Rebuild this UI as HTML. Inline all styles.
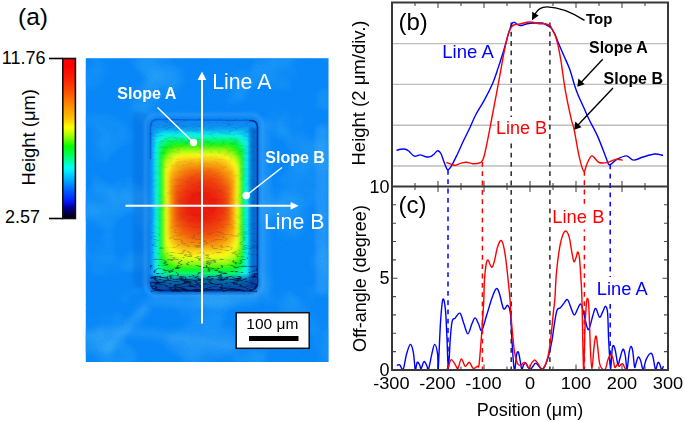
<!DOCTYPE html><html><head><meta charset="utf-8"><style>html,body{margin:0;padding:0;background:#fff;width:685px;height:422px;overflow:hidden}svg{position:absolute;left:0;top:0}</style></head><body>
<svg width="685" height="422" viewBox="0 0 685 422" font-family="'Liberation Sans', sans-serif">
<defs>
<linearGradient id="cb" x1="0" y1="0" x2="0" y2="1"><stop offset="0.000" stop-color="#ff0000"/><stop offset="0.050" stop-color="#ff0000"/><stop offset="0.130" stop-color="#fc2300"/><stop offset="0.200" stop-color="#ff4b00"/><stop offset="0.280" stop-color="#ff8200"/><stop offset="0.380" stop-color="#ffc800"/><stop offset="0.430" stop-color="#ffff00"/><stop offset="0.480" stop-color="#aaff00"/><stop offset="0.550" stop-color="#00ff00"/><stop offset="0.620" stop-color="#00ff78"/><stop offset="0.680" stop-color="#00fff0"/><stop offset="0.700" stop-color="#00f0ff"/><stop offset="0.760" stop-color="#00aaff"/><stop offset="0.830" stop-color="#005aff"/><stop offset="0.890" stop-color="#001eff"/><stop offset="0.930" stop-color="#0000a0"/><stop offset="0.970" stop-color="#00003c"/><stop offset="1.000" stop-color="#000000"/></linearGradient>
<linearGradient id="gL" gradientUnits="userSpaceOnUse" x1="150.0" y1="0" x2="188.0" y2="0"><stop offset="0.000" stop-color="#0888f8"/><stop offset="0.023" stop-color="#0b8af1"/><stop offset="0.046" stop-color="#0c9bf2"/><stop offset="0.069" stop-color="#0dacf3"/><stop offset="0.092" stop-color="#0ebcf4"/><stop offset="0.112" stop-color="#0fd0f5"/><stop offset="0.132" stop-color="#11e3f6"/><stop offset="0.151" stop-color="#11f2ef"/><stop offset="0.171" stop-color="#11f7d7"/><stop offset="0.204" stop-color="#11f6a1"/><stop offset="0.237" stop-color="#10f66d"/><stop offset="0.270" stop-color="#10f53d"/><stop offset="0.303" stop-color="#0ff40f"/><stop offset="0.336" stop-color="#53f711"/><stop offset="0.368" stop-color="#97f913"/><stop offset="0.401" stop-color="#cdfb15"/><stop offset="0.434" stop-color="#fcfc17"/><stop offset="0.461" stop-color="#fadf15"/><stop offset="0.487" stop-color="#f9c413"/><stop offset="0.513" stop-color="#f8b112"/><stop offset="0.539" stop-color="#f69f11"/><stop offset="0.569" stop-color="#f58e10"/><stop offset="0.599" stop-color="#f47e0f"/><stop offset="0.628" stop-color="#f36d0e"/><stop offset="0.658" stop-color="#f25d0d"/><stop offset="0.684" stop-color="#f2520c"/><stop offset="0.711" stop-color="#f14a0c"/><stop offset="0.737" stop-color="#f0420b"/><stop offset="0.763" stop-color="#ee390b"/><stop offset="0.822" stop-color="#ee320a"/><stop offset="0.882" stop-color="#ec290a"/><stop offset="0.941" stop-color="#ed2209"/><stop offset="1.000" stop-color="#ed1d09"/></linearGradient>
<linearGradient id="gR" gradientUnits="userSpaceOnUse" x1="258.0" y1="0" x2="215.0" y2="0"><stop offset="-0.000" stop-color="#0888f8"/><stop offset="0.035" stop-color="#0b85f0"/><stop offset="0.070" stop-color="#0c90f1"/><stop offset="0.105" stop-color="#0c9bf2"/><stop offset="0.140" stop-color="#0da6f2"/><stop offset="0.172" stop-color="#0eb9f4"/><stop offset="0.203" stop-color="#0fcdf5"/><stop offset="0.235" stop-color="#10e0f6"/><stop offset="0.267" stop-color="#11f1f1"/><stop offset="0.294" stop-color="#11f7bc"/><stop offset="0.320" stop-color="#10f67c"/><stop offset="0.346" stop-color="#10f546"/><stop offset="0.372" stop-color="#0ff40f"/><stop offset="0.398" stop-color="#53f711"/><stop offset="0.424" stop-color="#97f913"/><stop offset="0.451" stop-color="#cdfb15"/><stop offset="0.477" stop-color="#fcfc17"/><stop offset="0.503" stop-color="#fadf15"/><stop offset="0.529" stop-color="#f9c413"/><stop offset="0.555" stop-color="#f8b112"/><stop offset="0.581" stop-color="#f69f11"/><stop offset="0.605" stop-color="#f58e10"/><stop offset="0.628" stop-color="#f47e0f"/><stop offset="0.651" stop-color="#f36d0e"/><stop offset="0.674" stop-color="#f25d0d"/><stop offset="0.695" stop-color="#f2520c"/><stop offset="0.715" stop-color="#f14a0c"/><stop offset="0.735" stop-color="#f0420b"/><stop offset="0.756" stop-color="#ee390b"/><stop offset="0.817" stop-color="#ee320a"/><stop offset="0.878" stop-color="#ec290a"/><stop offset="0.939" stop-color="#ed2209"/><stop offset="1.000" stop-color="#ed1d09"/></linearGradient>
<linearGradient id="gT" gradientUnits="userSpaceOnUse" x1="0" y1="119.0" x2="0" y2="192.0"><stop offset="0.000" stop-color="#0888f8"/><stop offset="0.034" stop-color="#0b85f0"/><stop offset="0.068" stop-color="#0c90f1"/><stop offset="0.103" stop-color="#0c9bf2"/><stop offset="0.137" stop-color="#0da6f2"/><stop offset="0.154" stop-color="#0eb9f4"/><stop offset="0.171" stop-color="#0fcdf5"/><stop offset="0.188" stop-color="#10e0f6"/><stop offset="0.205" stop-color="#11f1f1"/><stop offset="0.240" stop-color="#11f7bc"/><stop offset="0.274" stop-color="#10f67c"/><stop offset="0.308" stop-color="#10f546"/><stop offset="0.342" stop-color="#0ff40f"/><stop offset="0.380" stop-color="#53f711"/><stop offset="0.418" stop-color="#97f913"/><stop offset="0.455" stop-color="#cdfb15"/><stop offset="0.493" stop-color="#fcfc17"/><stop offset="0.524" stop-color="#fadf15"/><stop offset="0.555" stop-color="#f9c413"/><stop offset="0.586" stop-color="#f8b112"/><stop offset="0.616" stop-color="#f69f11"/><stop offset="0.644" stop-color="#f58e10"/><stop offset="0.671" stop-color="#f47e0f"/><stop offset="0.699" stop-color="#f36d0e"/><stop offset="0.726" stop-color="#f25d0d"/><stop offset="0.753" stop-color="#f2520c"/><stop offset="0.781" stop-color="#f14a0c"/><stop offset="0.808" stop-color="#f0420b"/><stop offset="0.836" stop-color="#ee390b"/><stop offset="0.877" stop-color="#ee320a"/><stop offset="0.918" stop-color="#ec290a"/><stop offset="0.959" stop-color="#ed2209"/><stop offset="1.000" stop-color="#ed1d09"/></linearGradient>
<linearGradient id="gB" gradientUnits="userSpaceOnUse" x1="0" y1="291.0" x2="0" y2="218.0"><stop offset="-0.000" stop-color="#0888f8"/><stop offset="0.021" stop-color="#0b8af1"/><stop offset="0.041" stop-color="#0c9bf2"/><stop offset="0.062" stop-color="#0dacf3"/><stop offset="0.082" stop-color="#0ebcf4"/><stop offset="0.103" stop-color="#0fd0f5"/><stop offset="0.123" stop-color="#11e3f6"/><stop offset="0.144" stop-color="#11f2ef"/><stop offset="0.164" stop-color="#11f7d7"/><stop offset="0.188" stop-color="#11f6ae"/><stop offset="0.212" stop-color="#10f685"/><stop offset="0.236" stop-color="#10f561"/><stop offset="0.260" stop-color="#10f53d"/><stop offset="0.284" stop-color="#0ff51e"/><stop offset="0.308" stop-color="#25f510"/><stop offset="0.332" stop-color="#53f711"/><stop offset="0.356" stop-color="#7ff813"/><stop offset="0.380" stop-color="#a2f914"/><stop offset="0.404" stop-color="#bdfa15"/><stop offset="0.428" stop-color="#d5fb15"/><stop offset="0.452" stop-color="#ecfc16"/><stop offset="0.476" stop-color="#fcf616"/><stop offset="0.500" stop-color="#fbe715"/><stop offset="0.524" stop-color="#fad714"/><stop offset="0.548" stop-color="#f9c713"/><stop offset="0.568" stop-color="#f8ba13"/><stop offset="0.589" stop-color="#f7ad12"/><stop offset="0.610" stop-color="#f69f11"/><stop offset="0.630" stop-color="#f69210"/><stop offset="0.654" stop-color="#f5840f"/><stop offset="0.678" stop-color="#f4770e"/><stop offset="0.702" stop-color="#f3690e"/><stop offset="0.726" stop-color="#f25d0d"/><stop offset="0.753" stop-color="#f2520c"/><stop offset="0.781" stop-color="#f14a0c"/><stop offset="0.808" stop-color="#f0420b"/><stop offset="0.836" stop-color="#ee390b"/><stop offset="0.877" stop-color="#ee320a"/><stop offset="0.918" stop-color="#ec290a"/><stop offset="0.959" stop-color="#ed2209"/><stop offset="1.000" stop-color="#ed1d09"/></linearGradient>
<filter id="blur2" x="-10%" y="-20%" width="120%" height="140%"><feGaussianBlur stdDeviation="2.5"/></filter>
<filter id="blur3" x="-20%" y="-20%" width="140%" height="140%"><feGaussianBlur stdDeviation="3.5"/></filter>
<filter id="blur1" x="-10%" y="-10%" width="120%" height="120%"><feGaussianBlur stdDeviation="1.6"/></filter>
<filter id="veins" x="0" y="0" width="100%" height="100%" color-interpolation-filters="sRGB"><feTurbulence type="fractalNoise" baseFrequency="0.045 0.15" numOctaves="3" seed="11"/><feColorMatrix type="matrix" values="0 0 0 0 0  0 0 0 0 0.03  0 0 0 0 0.25  1 0 0 0 0"/><feComponentTransfer><feFuncA type="table" tableValues="0 0 0 0 0 0 0 0 0 0 0 0 0 0.15 0.85 0.15 0 0 0 0 0 0 0 0 0 0 0 0 0"/></feComponentTransfer></filter>
<linearGradient id="vmg" x1="0" y1="0" x2="0" y2="1"><stop offset="0" stop-color="#fff" stop-opacity="0.2"/><stop offset="0.25" stop-color="#fff" stop-opacity="0.07"/><stop offset="0.6" stop-color="#fff" stop-opacity="0.07"/><stop offset="0.78" stop-color="#fff" stop-opacity="0.35"/><stop offset="0.88" stop-color="#fff" stop-opacity="0.85"/><stop offset="1" stop-color="#fff" stop-opacity="1"/></linearGradient>
<mask id="vmask" maskUnits="userSpaceOnUse" x="0" y="0" width="685" height="422"><rect x="150" y="118" width="108" height="174" rx="9" fill="url(#vmg)"/></mask>
<filter id="mottle" x="0" y="0" width="100%" height="100%" color-interpolation-filters="sRGB"><feTurbulence type="fractalNoise" baseFrequency="0.022" numOctaves="3" seed="4"/><feColorMatrix type="matrix" values="0 0 0 0 0.22  0 0 0 0 0.68  0 0 0 0 0.97  1.5 0 0 0 -0.72"/></filter>
<filter id="grain" x="0" y="0" width="100%" height="100%" color-interpolation-filters="sRGB"><feTurbulence type="fractalNoise" baseFrequency="0.7" numOctaves="1" seed="9"/><feColorMatrix type="matrix" values="0 0 0 0 0  0 0 0 0 0.35  0 0 0 0 0.85  -0.4 0 0 0 0.2"/></filter>
<filter id="veins2" x="0" y="0" width="100%" height="100%" color-interpolation-filters="sRGB"><feTurbulence type="fractalNoise" baseFrequency="0.05 0.2" numOctaves="2" seed="23"/><feColorMatrix type="matrix" values="0 0 0 0 0  0 0 0 0 0.02  0 0 0 0 0.15  1 0 0 0 0"/><feComponentTransfer><feFuncA type="table" tableValues="0 0 0 0 0 0 0 0 0 0 0.2 0.9 0.2 0 0 0 0 0 0 0 0 0"/></feComponentTransfer></filter>
</defs>
<text x="18" y="25.4" font-size="24.5">(a)</text>
<text x="45.5" y="64" font-size="18" text-anchor="end">11.76</text>
<text x="40" y="223" font-size="18" text-anchor="end">2.57</text>
<line x1="49" y1="58.5" x2="63" y2="58.5" stroke="#000" stroke-width="1.6"/>
<line x1="49" y1="218.5" x2="63" y2="218.5" stroke="#000" stroke-width="1.6"/>
<rect x="62.8" y="58.5" width="12.6" height="160" fill="url(#cb)" stroke="#111" stroke-width="1.6"/>
<text transform="translate(35.3,185.5) rotate(-90)" font-size="18.4">Height (μm)</text>
<g>
<rect x="85.8" y="58.2" width="242.7" height="303.8" fill="#0888f8"/>
<rect x="85.8" y="58.2" width="242.7" height="303.8" filter="url(#mottle)"/>
<rect x="133" y="112" width="16" height="176" rx="6" fill="#0040b0" opacity="0.16" filter="url(#blur1)"/>
<rect x="316" y="125" width="12.5" height="170" rx="6" fill="#50b4fa" opacity="0.35" filter="url(#blur2)"/>
<g filter="url(#blur3)" fill="none" stroke="#5cbcf8">
<path d="M104,352 Q125,330 148,304" stroke-width="6" opacity="0.45"/>
<path d="M86,336 Q120,328 160,335 T236,346" stroke-width="7" opacity="0.3"/>
<path d="M150,300 Q200,306 258,298" stroke-width="8" opacity="0.3"/>
<ellipse cx="205" cy="342" rx="40" ry="16" fill="#5cbcf8" stroke="none" opacity="0.22"/>
<path d="M265,120 L265,292" stroke-width="6" opacity="0.3"/>
</g>
<rect x="85.8" y="58.2" width="242.7" height="303.8" filter="url(#grain)"/>
<g filter="url(#blur1)">
<rect x="150.0" y="119.0" width="108.0" height="172.0" rx="8.0" fill="#0888f8"/>
<rect x="150.9" y="122.6" width="105.0" height="166.9" rx="8.4" fill="#0b8af1"/>
<rect x="151.7" y="126.3" width="101.9" height="161.8" rx="8.8" fill="#0c9af2"/>
<rect x="152.6" y="129.3" width="99.2" height="157.4" rx="9.2" fill="#0daaf3"/>
<rect x="153.4" y="130.3" width="97.2" height="154.9" rx="9.7" fill="#0ebaf4"/>
<rect x="154.1" y="131.4" width="95.4" height="152.5" rx="10.1" fill="#0fcaf5"/>
<rect x="154.7" y="132.4" width="93.6" height="150.3" rx="10.5" fill="#10dbf6"/>
<rect x="155.3" y="133.4" width="91.8" height="148.0" rx="10.9" fill="#11ebf5"/>
<rect x="155.9" y="134.5" width="90.4" height="145.7" rx="11.3" fill="#12f4eb"/>
<rect x="156.6" y="135.5" width="89.3" height="143.4" rx="11.8" fill="#11f7d5"/>
<rect x="157.2" y="136.6" width="88.2" height="141.2" rx="12.2" fill="#11f7ba"/>
<rect x="157.8" y="137.6" width="87.1" height="139.0" rx="12.6" fill="#11f6a0"/>
<rect x="158.4" y="138.6" width="86.0" height="136.9" rx="13.0" fill="#10f685"/>
<rect x="159.0" y="139.7" width="85.0" height="134.7" rx="13.4" fill="#10f66e"/>
<rect x="159.6" y="140.7" width="83.9" height="132.5" rx="13.8" fill="#10f557"/>
<rect x="160.2" y="141.8" width="82.8" height="130.3" rx="14.2" fill="#10f540"/>
<rect x="160.8" y="142.8" width="81.7" height="128.0" rx="14.7" fill="#0ff529"/>
<rect x="161.4" y="143.9" width="80.7" height="125.7" rx="15.1" fill="#0ff513"/>
<rect x="162.0" y="145.1" width="79.5" height="123.1" rx="15.5" fill="#2bf510"/>
<rect x="162.6" y="146.5" width="78.4" height="120.5" rx="15.9" fill="#4cf611"/>
<rect x="163.2" y="147.8" width="77.2" height="117.9" rx="16.3" fill="#6df712"/>
<rect x="163.8" y="149.2" width="76.0" height="115.1" rx="16.8" fill="#8ef913"/>
<rect x="164.5" y="150.5" width="74.9" height="112.1" rx="17.2" fill="#aefa14"/>
<rect x="165.1" y="151.8" width="73.7" height="109.0" rx="17.6" fill="#c5fa15"/>
<rect x="165.7" y="153.2" width="72.6" height="106.0" rx="18.0" fill="#dcfb16"/>
<rect x="166.3" y="154.5" width="71.4" height="103.0" rx="18.4" fill="#f4fc16"/>
<rect x="166.8" y="155.8" width="70.3" height="100.0" rx="18.8" fill="#fcf316"/>
<rect x="167.4" y="156.9" width="69.2" height="97.1" rx="19.2" fill="#fbe315"/>
<rect x="167.9" y="158.1" width="68.0" height="94.2" rx="19.7" fill="#fad414"/>
<rect x="168.4" y="159.3" width="66.9" height="91.5" rx="20.1" fill="#f9c513"/>
<rect x="169.0" y="160.5" width="65.8" height="89.2" rx="20.5" fill="#f8bc13"/>
<rect x="169.5" y="161.7" width="64.7" height="86.9" rx="20.9" fill="#f8b212"/>
<rect x="170.0" y="162.9" width="63.5" height="84.6" rx="21.3" fill="#f7a811"/>
<rect x="170.6" y="164.1" width="62.4" height="82.3" rx="21.8" fill="#f69e11"/>
<rect x="171.2" y="165.3" width="61.2" height="80.0" rx="22.2" fill="#f69510"/>
<rect x="171.9" y="166.4" width="59.9" height="77.7" rx="22.6" fill="#f58b10"/>
<rect x="172.5" y="167.6" width="58.7" height="75.2" rx="23.0" fill="#f5810f"/>
<rect x="173.2" y="168.8" width="57.4" height="72.8" rx="23.4" fill="#f4780e"/>
<rect x="173.8" y="169.9" width="56.2" height="70.3" rx="23.8" fill="#f36e0e"/>
<rect x="174.5" y="171.1" width="55.0" height="67.9" rx="24.2" fill="#f3640d"/>
<rect x="175.2" y="172.4" width="53.6" height="65.1" rx="24.7" fill="#f25a0d"/>
<rect x="176.2" y="174.4" width="51.8" height="61.2" rx="25.1" fill="#f2500c"/>
<rect x="177.2" y="176.3" width="49.9" height="57.3" rx="25.5" fill="#f0490c"/>
<rect x="178.1" y="178.3" width="48.1" height="53.4" rx="25.9" fill="#f0410b"/>
<rect x="179.2" y="180.3" width="46.0" height="49.3" rx="26.3" fill="#ee380b"/>
<rect x="181.4" y="183.2" width="41.2" height="43.5" rx="26.8" fill="#ee310a"/>
<rect x="183.6" y="186.2" width="36.5" height="37.7" rx="27.2" fill="#ec290a"/>
<rect x="185.8" y="189.1" width="31.7" height="31.8" rx="27.6" fill="#ed2209"/>
<rect x="188.0" y="192.0" width="27.0" height="26.0" rx="28.0" fill="#ed1d09"/>
</g>
<rect x="145.5" y="114.5" width="117.0" height="181.0" rx="11" fill="none" stroke="#4aa6f2" stroke-width="3" opacity="0.5" filter="url(#blur1)"/>
<path d="M151.0,277 L257.0,277 L257.0,283 Q257.0,292 248.0,292 L160.0,292 Q151.0,292 151.0,283 Z" fill="#001470" opacity="0.6" filter="url(#blur2)"/>
<rect x="249.5" y="128" width="7.5" height="160" fill="#002090" opacity="0.35" filter="url(#blur1)"/>
<path d="M249.0,120.5 L251.0,120.5 Q257.5,120.5 257.5,128.0 L257.5,282.0 Q257.5,290.5 249.0,290.5" fill="none" stroke="#001060" stroke-width="1.6" opacity="0.75"/>
<path d="M249.0,290.5 L159.0,290.5 Q150.5,290.5 150.5,282.0" fill="none" stroke="#001060" stroke-width="1.6" opacity="0.65"/>
<path d="M150.5,159.0 L150.5,127.0 Q150.5,119.5 158.0,119.5 L249.0,120.5" fill="none" stroke="#0030a0" stroke-width="1.6" opacity="0.4"/>
<rect x="149.0" y="118.0" width="110.0" height="174.0" filter="url(#veins)" mask="url(#vmask)"/>
<rect x="151.0" y="276" width="106.0" height="16" rx="6" filter="url(#veins2)" opacity="0.8"/>
<g stroke="#fff" fill="#fff">
<line x1="202" y1="323.5" x2="202" y2="78" stroke-width="2"/>
<polygon points="202,71.5 197.6,80 206.4,80" stroke="none"/>
<line x1="125.5" y1="205.8" x2="292" y2="205.8" stroke-width="2"/>
<polygon points="298.6,205.8 290.6,201.9 290.6,209.7" stroke="none"/>
<line x1="157.5" y1="107.5" x2="193.5" y2="142.5" stroke-width="1.5"/>
<circle cx="193.5" cy="142.5" r="3.7" stroke="none"/>
<line x1="282" y1="167.5" x2="246.2" y2="195.5" stroke-width="1.5"/>
<circle cx="246.2" cy="195.5" r="3.7" stroke="none"/>
</g>
<g fill="#fff">
<text x="117.3" y="99" font-size="16" font-weight="bold">Slope A</text>
<text x="265.3" y="162.8" font-size="16" font-weight="bold">Slope B</text>
<text x="212.2" y="89" font-size="21.3">Line A</text>
<text x="264" y="229.2" font-size="21.3">Line B</text>
</g>
<rect x="236.2" y="312.7" width="73" height="35.6" fill="#fff" stroke="#111" stroke-width="1.5"/>
<text x="246.3" y="328.7" font-size="15.5">100 μm</text>
<rect x="249" y="336" width="49.5" height="5" fill="#000"/>
</g>
<line x1="392" y1="43.6" x2="668" y2="43.6" stroke="#bdbdbd" stroke-width="1.4"/>
<line x1="392" y1="84.4" x2="668" y2="84.4" stroke="#bdbdbd" stroke-width="1.4"/>
<line x1="392" y1="125.2" x2="668" y2="125.2" stroke="#bdbdbd" stroke-width="1.4"/>
<line x1="392" y1="166.0" x2="668" y2="166.0" stroke="#bdbdbd" stroke-width="1.4"/>
<path d="M392.0,2.5v5.5M392.0,181.0v11.0M392.0,370.0v-5.5M415.0,2.5v3.5M415.0,183.0v7.0M415.0,370.0v-3.5M438.0,2.5v5.5M438.0,181.0v11.0M438.0,370.0v-5.5M461.0,2.5v3.5M461.0,183.0v7.0M461.0,370.0v-3.5M484.0,2.5v5.5M484.0,181.0v11.0M484.0,370.0v-5.5M507.0,2.5v3.5M507.0,183.0v7.0M507.0,370.0v-3.5M530.0,2.5v5.5M530.0,181.0v11.0M530.0,370.0v-5.5M553.0,2.5v3.5M553.0,183.0v7.0M553.0,370.0v-3.5M576.0,2.5v5.5M576.0,181.0v11.0M576.0,370.0v-5.5M599.0,2.5v3.5M599.0,183.0v7.0M599.0,370.0v-3.5M622.0,2.5v5.5M622.0,181.0v11.0M622.0,370.0v-5.5M645.0,2.5v3.5M645.0,183.0v7.0M645.0,370.0v-3.5M668.0,2.5v5.5M668.0,181.0v11.0M668.0,370.0v-5.5M392.0,370.0h5.5M668.0,370.0h-5.5M392.0,351.6h4.0M668.0,351.6h-4.0M392.0,333.3h4.0M668.0,333.3h-4.0M392.0,314.9h4.0M668.0,314.9h-4.0M392.0,296.6h4.0M668.0,296.6h-4.0M392.0,278.2h5.5M668.0,278.2h-5.5M392.0,259.9h4.0M668.0,259.9h-4.0M392.0,241.5h4.0M668.0,241.5h-4.0M392.0,223.2h4.0M668.0,223.2h-4.0M392.0,204.8h4.0M668.0,204.8h-4.0M392.0,186.5h5.5M668.0,186.5h-5.5" stroke="#4a4a4a" stroke-width="1.1" fill="none"/>
<line x1="511.2" y1="22.5" x2="511.2" y2="370.0" stroke="#2a2a2a" stroke-width="1.5" stroke-dasharray="4.8,4.5"/>
<line x1="549.9" y1="22.5" x2="549.9" y2="370.0" stroke="#2a2a2a" stroke-width="1.5" stroke-dasharray="4.8,4.5"/>
<line x1="482.4" y1="162.0" x2="482.4" y2="370.0" stroke="#f00" stroke-width="1.5" stroke-dasharray="4.8,4.5"/>
<line x1="584.4" y1="171.0" x2="584.4" y2="370.0" stroke="#f00" stroke-width="1.5" stroke-dasharray="4.8,4.5"/>
<line x1="448.0" y1="170.0" x2="448.0" y2="370.0" stroke="#00f" stroke-width="1.5" stroke-dasharray="4.8,4.5"/>
<line x1="610.2" y1="164.5" x2="610.2" y2="370.0" stroke="#00f" stroke-width="1.5" stroke-dasharray="4.8,4.5"/>
<rect x="551.5" y="204" width="54.5" height="25.5" fill="#fff"/>
<rect x="596" y="277" width="55" height="25" fill="#fff"/>
<rect x="495.8" y="117" width="51.8" height="24" fill="#fff"/>
<path d="M396.5,150.4C397.2,150.2 399.2,149.5 400.7,149.3C402.2,149.1 404.0,148.9 405.4,149.2C406.8,149.5 407.5,150.2 409.0,151.3C410.5,152.5 412.4,155.5 414.3,156.1C416.2,156.7 418.3,154.8 420.2,154.9C422.1,155.0 423.9,156.4 425.6,156.7C427.3,157.0 428.8,157.2 430.3,156.7C431.8,156.2 433.1,154.7 434.4,153.7C435.6,152.7 436.7,150.7 437.8,150.7C438.9,150.7 439.9,151.6 441.0,153.7C442.1,155.8 443.4,160.5 444.5,163.2C445.6,165.9 446.5,169.3 447.7,169.7C448.9,170.1 450.0,168.3 451.6,165.6C453.2,162.9 455.6,157.8 457.6,153.7C459.6,149.5 461.6,144.6 463.5,140.7C465.4,136.8 466.7,134.4 468.8,130.0C470.9,125.6 473.3,119.5 475.9,114.5C478.5,109.5 481.4,105.4 484.2,100.3C487.0,95.2 490.1,89.2 492.5,83.7C494.9,78.2 496.4,73.0 498.4,67.1C500.4,61.2 502.6,54.1 504.4,48.2C506.2,42.3 507.8,35.8 509.1,31.6C510.4,27.5 511.2,24.8 512.2,23.3C513.2,21.8 514.1,22.4 515.0,22.6C515.9,22.8 516.6,24.0 517.4,24.5C518.2,25.0 519.1,25.4 520.0,25.5C520.9,25.6 521.8,25.5 523.0,25.2C524.2,24.9 525.4,24.1 527.4,23.7C529.4,23.3 532.6,23.1 535.0,23.0C537.4,22.9 539.9,22.8 541.6,23.0C543.3,23.2 543.5,23.4 545.0,24.2C546.5,25.0 549.1,26.1 550.7,27.6C552.3,29.1 553.2,30.8 554.5,33.3C555.8,35.8 556.7,39.0 558.3,42.8C559.9,46.6 562.1,51.6 564.0,56.0C565.9,60.4 568.0,64.6 569.7,69.3C571.4,74.0 572.9,80.0 574.2,84.2C575.6,88.4 576.2,90.4 577.8,94.2C579.3,98.0 581.6,102.7 583.5,107.0C585.4,111.3 586.8,114.8 589.2,119.8C591.6,124.8 595.1,130.5 597.9,136.9C600.7,143.3 604.4,153.6 606.2,158.2C608.0,162.8 607.8,163.2 608.6,164.2C609.4,165.2 609.6,165.0 611.0,164.2C612.4,163.4 614.3,160.8 616.9,159.4C619.5,158.0 623.6,155.8 626.4,155.9C629.2,156.0 630.7,159.9 633.5,160.1C636.3,160.3 639.5,158.0 643.0,157.0C646.5,156.0 651.4,154.3 654.8,154.0C658.1,153.7 661.7,155.2 663.1,155.4" fill="none" stroke="#0000ff" stroke-width="1.4" stroke-linejoin="round"/>
<path d="M446.3,162.4C447.2,162.7 450.0,163.9 451.6,164.4C453.2,164.9 454.2,165.5 455.8,165.3C457.4,165.1 459.3,163.7 461.1,163.2C462.9,162.7 464.4,162.1 466.4,162.2C468.3,162.3 470.5,163.6 472.8,163.7C475.1,163.8 478.5,163.5 480.3,162.6C482.1,161.7 482.2,162.2 483.5,158.3C484.8,154.4 486.3,146.4 487.8,139.1C489.3,131.8 491.1,121.8 492.5,114.5C493.9,107.2 494.9,101.9 496.1,95.6C497.3,89.3 498.2,84.1 499.6,76.6C501.0,69.1 503.0,57.4 504.4,50.5C505.8,43.6 506.8,38.9 507.9,35.1C509.0,31.4 509.8,29.7 510.8,28.0C511.8,26.3 512.3,25.7 513.8,25.0C515.3,24.3 517.1,24.5 519.8,24.0C522.5,23.5 526.6,22.1 529.8,22.0C533.0,21.9 536.7,23.4 539.2,23.7C541.7,24.0 543.2,23.5 545.0,23.8C546.8,24.1 548.8,24.8 549.9,25.6C551.0,26.4 550.7,26.8 551.6,28.5C552.5,30.2 554.3,33.1 555.4,36.1C556.5,39.1 557.3,42.3 558.3,46.6C559.2,50.9 560.1,55.4 561.1,61.7C562.1,68.0 563.3,77.8 564.3,84.2C565.3,90.6 565.9,94.0 567.1,99.9C568.3,105.8 570.2,114.8 571.4,119.8C572.6,124.8 572.9,123.8 574.2,129.8C575.5,135.8 577.4,149.0 579.0,155.9C580.6,162.8 582.3,170.1 583.7,171.3C585.1,172.5 585.9,165.6 587.3,163.0C588.7,160.4 590.0,156.0 592.0,155.9C594.0,155.8 596.5,161.4 599.1,162.5C601.7,163.6 604.6,163.0 607.4,162.5C610.2,162.0 613.1,159.8 615.7,159.4C618.3,159.0 621.6,160.0 622.8,160.1" fill="none" stroke="#ff0000" stroke-width="1.4" stroke-linejoin="round"/>
<path d="M396.8,365.4C397.3,365.3 398.6,364.2 399.7,364.9C400.8,365.5 402.1,371.1 403.2,369.3C404.3,367.5 405.3,358.4 406.5,354.2C407.7,350.0 409.3,344.7 410.4,344.4C411.5,344.1 412.5,348.0 413.3,352.2C414.1,356.4 414.7,367.6 415.3,369.3C415.9,371.0 416.5,363.0 417.2,362.3C417.9,361.6 419.0,363.8 419.6,364.9C420.2,366.0 420.4,369.2 421.1,368.7C421.8,368.1 423.0,362.1 424.0,361.6C425.0,361.1 426.1,364.5 426.9,365.8C427.6,367.1 427.7,371.2 428.5,369.3C429.3,367.4 430.8,358.4 431.8,354.2C432.8,350.0 433.7,344.4 434.7,344.4C435.7,344.4 437.0,350.0 437.6,354.2C438.2,358.4 437.7,374.8 438.2,369.3C438.7,363.8 439.8,332.8 440.6,321.1C441.4,309.4 442.1,301.2 442.9,299.3C443.7,297.4 444.7,302.8 445.4,309.4C446.1,315.9 446.5,328.6 447.0,338.6C447.5,348.6 447.8,369.3 448.3,369.3C448.9,369.3 449.7,346.6 450.3,338.6C450.9,330.6 451.4,324.5 452.2,321.1C453.0,317.7 453.8,319.5 455.1,318.2C456.4,316.9 458.4,312.3 459.9,313.2C461.4,314.1 462.6,320.4 463.9,323.8C465.2,327.2 466.6,333.9 467.9,333.9C469.2,333.9 470.7,326.5 471.9,323.8C473.1,321.1 474.0,317.9 475.1,317.9C476.2,317.9 477.4,321.7 478.5,323.8C479.6,325.9 480.4,331.7 481.7,330.4C483.0,329.1 484.8,321.1 486.5,315.8C488.2,310.5 490.2,303.0 491.8,298.5C493.4,294.0 495.0,289.5 496.3,288.7C497.6,287.9 498.3,290.3 499.5,293.7C500.7,297.1 502.2,306.9 503.6,308.8C505.0,310.7 506.6,304.6 507.7,305.3C508.8,306.0 509.7,307.8 510.4,313.2C511.1,318.6 511.3,329.2 511.8,337.5C512.3,345.8 513.0,357.8 513.5,363.1C514.0,368.4 514.4,370.9 514.9,369.5C515.4,368.1 516.0,357.4 516.6,354.5C517.2,351.6 517.7,351.1 518.3,352.0C518.9,352.9 519.4,356.9 520.0,359.7C520.6,362.5 521.1,368.1 521.7,369.0C522.3,369.9 523.0,365.7 523.7,364.8C524.4,363.9 525.1,363.0 525.8,363.4C526.5,363.8 527.3,366.3 528.0,367.3C528.7,368.3 529.5,369.5 530.2,369.5C530.9,369.5 531.4,368.4 532.3,367.3C533.2,366.2 534.6,363.2 535.7,363.1C536.8,363.0 538.0,365.4 539.1,366.5C540.2,367.6 541.2,369.6 542.2,369.5C543.2,369.4 544.1,367.8 545.1,365.6C546.1,363.4 547.4,360.3 548.5,356.2C549.6,352.1 550.9,346.3 551.9,340.9C552.9,335.5 553.5,329.0 554.4,323.9C555.2,318.8 556.0,312.9 557.0,310.2C558.0,307.5 559.3,308.8 560.4,307.7C561.5,306.6 562.5,304.9 563.7,303.6C564.9,302.3 566.3,298.7 567.6,299.7C568.9,300.7 570.4,306.9 571.5,309.4C572.6,311.9 573.4,314.9 574.4,314.9C575.4,314.9 576.4,311.2 577.4,309.4C578.4,307.6 579.5,303.8 580.5,304.0C581.5,304.2 582.0,306.8 583.1,310.6C584.2,314.4 586.0,324.0 587.0,327.0C588.0,330.0 588.2,330.5 589.2,328.5C590.2,326.5 591.9,318.4 593.0,315.0C594.1,311.6 594.7,308.0 595.8,308.4C596.9,308.8 598.3,316.6 599.5,317.2C600.7,317.8 601.8,313.5 602.8,311.7C603.8,309.9 604.6,306.0 605.4,306.2C606.2,306.4 607.1,307.4 607.6,312.8C608.1,318.2 608.2,330.5 608.6,338.5C609.0,346.5 609.5,355.8 609.9,360.7C610.3,365.6 610.4,370.2 610.8,368.1C611.2,366.0 611.8,352.0 612.3,348.3C612.8,344.6 613.3,345.5 613.8,345.9C614.3,346.3 614.7,347.7 615.4,350.8C616.1,353.9 617.2,363.0 617.9,364.4C618.6,365.8 619.0,361.7 619.7,359.4C620.4,357.1 621.5,352.4 622.2,350.8C622.9,349.2 623.2,348.8 623.7,349.6C624.2,350.4 624.7,352.4 625.3,355.7C625.9,359.0 626.5,369.7 627.1,369.3C627.7,368.9 628.4,357.1 629.0,353.3C629.6,349.5 630.2,346.9 630.8,346.5C631.4,346.1 632.1,347.4 632.7,350.8C633.3,354.2 634.0,364.5 634.5,366.8C635.0,369.1 635.1,366.0 635.7,364.4C636.3,362.8 637.4,357.6 638.2,357.0C639.0,356.4 639.9,358.6 640.7,360.7C641.5,362.8 642.2,369.5 643.1,369.3C644.0,369.1 645.0,362.1 646.2,359.4C647.4,356.7 649.4,353.7 650.5,353.3C651.6,352.9 652.2,354.3 653.0,357.0C653.8,359.7 654.7,368.4 655.5,369.3C656.3,370.2 657.2,363.3 657.9,362.5C658.6,361.7 659.2,363.3 659.8,364.4C660.4,365.5 661.0,369.0 661.6,369.3C662.2,369.6 663.2,366.7 663.5,366.2" fill="none" stroke="#0000ff" stroke-width="1.4" stroke-linejoin="round"/>
<path d="M446.4,369.3C446.7,369.1 447.2,370.0 448.0,368.4C448.8,366.8 449.9,360.1 451.2,359.7C452.5,359.3 454.8,364.3 455.9,365.8C457.0,367.3 457.1,369.6 458.0,368.5C458.9,367.4 460.1,359.3 461.3,358.9C462.5,358.5 463.9,365.7 465.2,366.3C466.5,366.9 467.9,362.0 469.2,362.3C470.5,362.6 471.9,367.7 473.2,368.4C474.5,369.1 476.2,366.9 477.2,366.3C478.2,365.7 478.3,369.2 479.0,364.8C479.7,360.4 480.4,349.5 481.2,339.7C481.9,329.9 482.9,316.2 483.5,306.2C484.1,296.2 484.0,286.6 484.5,279.5C485.0,272.4 485.7,266.8 486.3,263.5C486.9,260.2 487.5,259.7 488.1,259.9C488.8,260.1 489.5,263.7 490.2,264.9C490.9,266.1 491.6,267.8 492.4,267.0C493.1,266.2 493.9,263.1 494.7,259.9C495.5,256.6 496.4,250.7 497.4,247.5C498.4,244.3 499.7,241.3 500.6,240.7C501.5,240.1 502.2,241.3 503.0,243.9C503.8,246.5 504.6,251.1 505.4,256.4C506.2,261.7 507.0,269.1 507.7,275.9C508.4,282.7 509.1,289.0 509.8,297.3C510.5,305.6 511.0,316.6 511.8,325.6C512.6,334.6 513.5,344.9 514.4,351.1C515.3,357.4 516.3,360.7 517.3,363.1C518.3,365.5 519.2,365.7 520.3,365.6C521.4,365.5 522.7,363.1 523.7,362.7C524.7,362.3 525.4,362.5 526.3,363.4C527.2,364.3 528.0,368.3 528.9,368.2C529.8,368.1 530.9,364.1 531.9,362.7C532.9,361.3 533.8,359.8 534.8,360.0C535.8,360.2 537.1,362.4 538.2,363.9C539.3,365.4 540.5,368.7 541.6,369.0C542.8,369.3 544.0,367.7 545.1,365.6C546.2,363.5 547.1,360.0 548.0,356.2C548.9,352.4 549.6,347.4 550.2,342.6C550.9,337.8 551.3,332.7 551.9,327.3C552.5,321.9 553.1,314.8 553.6,310.2C554.1,305.6 554.3,306.1 554.8,300.0C555.3,293.9 555.6,282.1 556.4,273.4C557.2,264.7 558.5,254.2 559.6,247.8C560.7,241.4 561.7,237.8 562.8,235.0C563.9,232.2 564.9,230.8 566.0,231.1C567.1,231.4 568.2,233.6 569.2,237.1C570.2,240.6 571.0,247.9 571.8,252.0C572.6,256.1 573.2,260.7 573.9,261.6C574.6,262.5 575.5,259.0 576.1,257.4C576.8,255.8 577.2,251.8 577.8,252.0C578.4,252.2 579.0,253.8 579.5,258.4C580.0,263.0 580.6,272.7 581.0,279.8C581.4,286.9 581.6,286.2 582.0,301.1C582.4,316.0 583.1,365.2 583.6,369.2C584.1,373.2 584.6,336.0 585.1,325.0C585.6,314.0 586.1,307.4 586.5,303.0C586.9,298.6 587.2,298.1 587.6,298.6C588.0,299.1 588.3,297.7 588.8,306.0C589.3,314.3 589.9,337.8 590.4,348.3C590.9,358.9 591.3,369.3 591.9,369.3C592.5,369.3 593.2,353.9 593.9,348.3C594.5,342.8 595.2,336.6 595.8,336.0C596.4,335.4 596.8,339.8 597.4,344.4C598.0,349.0 598.8,359.8 599.7,363.9C600.6,368.0 601.6,368.5 602.6,369.3C603.6,370.1 604.7,370.4 605.6,368.7C606.5,367.0 607.1,361.7 608.0,359.4C608.9,357.1 610.0,355.0 610.8,354.8C611.6,354.6 612.2,356.1 612.9,358.2C613.6,360.3 614.1,366.4 614.8,367.4C615.5,368.4 616.6,364.6 617.3,364.4C618.0,364.2 618.5,366.2 619.1,366.2C619.7,366.2 620.4,364.8 621.0,364.4C621.6,364.0 622.2,363.3 622.8,363.8C623.4,364.3 624.1,366.4 624.6,367.4C625.1,368.4 625.7,369.5 625.9,369.9" fill="none" stroke="#ff0000" stroke-width="1.4" stroke-linejoin="round"/>
<rect x="392.0" y="2.5" width="276.0" height="367.5" fill="none" stroke="#383838" stroke-width="2"/>
<line x1="392.0" y1="186.5" x2="668.0" y2="186.5" stroke="#383838" stroke-width="2"/>
<text x="398.5" y="30.3" font-size="24">(b)</text>
<text x="398.5" y="213.3" font-size="24">(c)</text>
<text x="442.3" y="58" font-size="18.5" fill="#0000ff">Line A</text>
<text x="496" y="134" font-size="18" fill="#ff0000">Line B</text>
<text x="552.3" y="223.1" font-size="18.4" fill="#ff0000">Line B</text>
<text x="596.8" y="295.3" font-size="18.3" fill="#0000ff">Line A</text>
<text x="586" y="23.6" font-size="15" font-weight="bold">Top</text>
<text x="589" y="53.3" font-size="15.95" font-weight="bold">Slope A</text>
<text x="603.6" y="83.5" font-size="15.95" font-weight="bold">Slope B</text>
<path d="M584.5,20.3 C572,12.5 558,7 547,6.9 C541.5,6.9 537.5,9.5 535,14" fill="none" stroke="#000" stroke-width="1.4"/>
<polygon points="532,20.2 532.2,11.8 538.7,15.4" fill="#000"/>
<line x1="602.7" y1="59.3" x2="581" y2="82.5" stroke="#000" stroke-width="1.4"/>
<polygon points="577.3,86.8 578.4,78.6 584.6,84.2" fill="#000"/>
<line x1="613" y1="88" x2="578" y2="125" stroke="#000" stroke-width="1.4"/>
<polygon points="574.2,129.8 575.3,121.6 581.5,127.2" fill="#000"/>
<text x="389.6" y="192.5" font-size="18" text-anchor="end">10</text>
<text x="389.6" y="284.3" font-size="18" text-anchor="end">5</text>
<text x="389.6" y="376" font-size="18" text-anchor="end">0</text>
<text transform="translate(391.4,389.2) scale(1.11,1)" font-size="16.4" text-anchor="middle">-300</text>
<text transform="translate(437.4,389.2) scale(1.11,1)" font-size="16.4" text-anchor="middle">-200</text>
<text transform="translate(483.4,389.2) scale(1.11,1)" font-size="16.4" text-anchor="middle">-100</text>
<text transform="translate(530.0,389.2) scale(1.11,1)" font-size="16.4" text-anchor="middle">0</text>
<text transform="translate(576.0,389.2) scale(1.11,1)" font-size="16.4" text-anchor="middle">100</text>
<text transform="translate(622.0,389.2) scale(1.11,1)" font-size="16.4" text-anchor="middle">200</text>
<text transform="translate(668.0,389.2) scale(1.11,1)" font-size="16.4" text-anchor="middle">300</text>
<text x="530" y="415.5" font-size="18" text-anchor="middle">Position (μm)</text>
<text transform="translate(365.3,93) rotate(-90)" font-size="18.5" text-anchor="middle">Height (2 μm/div.)</text>
<text transform="translate(365.5,278.5) rotate(-90)" font-size="18" text-anchor="middle">Off-angle (degree)</text>
</svg></body></html>
